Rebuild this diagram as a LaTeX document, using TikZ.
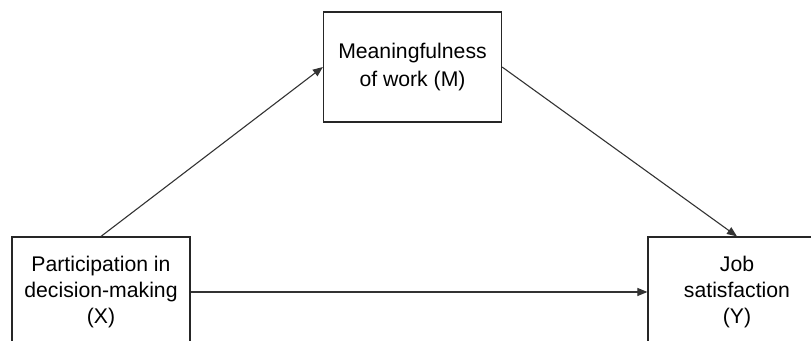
\documentclass[tikz,border=0pt]{standalone}
\usepackage{fontspec}
\setmainfont{Liberation Sans}
\usepackage{tikz}
\usetikzlibrary{arrows.meta}

\tikzset{
  varbox/.style={draw=black!85, line width=0.6pt, minimum width=89pt, minimum height=55pt,
    align=center, font=\fontsize{10.6}{13}\selectfont, inner sep=0pt},
  path/.style={draw=black!80, line width=0.55pt, -{Triangle[length=5pt,width=4pt]}}
}

\begin{document}
\begin{tikzpicture}[x=0.5pt,y=-0.5pt]
  % page frame
  \useasboundingbox (0,0) rectangle (811,341);
  \clip (0,0) rectangle (811,341);
  % variables
  \node[varbox] (X) at (101,292) {Participation in\\decision-making\\(X)};
  \node[varbox] (M) at (412.5,67) {\raisebox{1.8pt}{\shortstack{Meaningfulness\\[1pt]of work (M)}}};
  \node[varbox] (Y) at (737,292) {Job\\satisfaction\\(Y)};
  % paths
  \draw[path] (X.north) -- (M.west);
  \draw[path] (M.east) -- (Y.north);
  \draw[path] (X.east) -- (Y.west);
\end{tikzpicture}
\end{document}
